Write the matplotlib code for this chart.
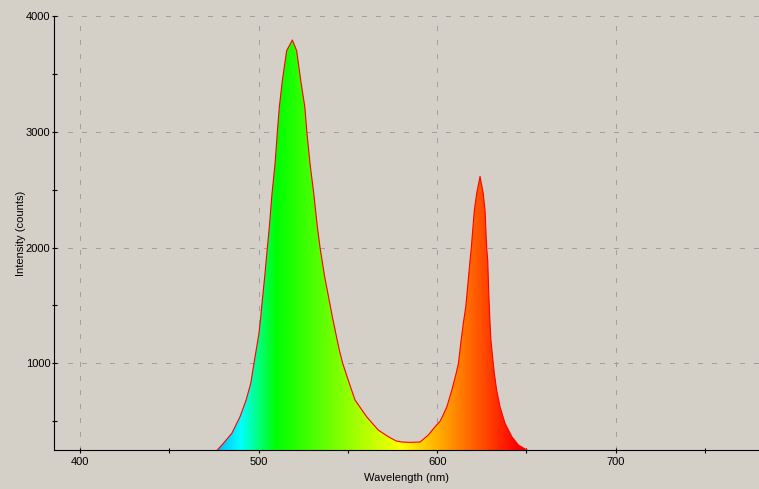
# -*- coding: utf-8 -*-
"""
Emission spectrum of an RGB LED (green + red), filled with the wavelength colour
"""
import numpy as np
import matplotlib.pyplot as plt
from matplotlib.path import Path
from matplotlib.patches import PathPatch
from matplotlib.ticker import MultipleLocator

# Spectrum (nm, counts)
wavelength = [476.9, 480.3, 485.0, 489.6, 493.0, 495.6, 497.4, 500.2, 501.2,
              501.7, 503.4, 504.9, 506.0, 507.5, 509.2, 510.5, 511.6, 513.3,
              515.7, 518.9, 521.3, 523.6, 525.9, 527.0, 528.8, 530.9, 532.9,
              534.4, 537.0, 538.1, 539.4, 541.3, 545.2, 547.1, 550.8, 554.0,
              560.5, 567.0, 572.6, 577.0, 580.2, 585.0, 590.4, 595.0, 598.8,
              601.6, 603.5, 605.4, 608.2, 610.6, 611.9, 613.4, 614.6, 616.0,
              616.7, 618.4, 619.1, 620.8, 622.1, 624.0, 625.8, 626.8, 627.7,
              628.3, 628.9, 629.2, 629.6, 630.1, 631.4, 632.0, 633.3, 635.2,
              638.0, 641.8, 645.5, 650.2]
intensity = [252, 310, 396, 539, 683, 827, 1000, 1258, 1401,
             1487, 1746, 2000, 2177, 2465, 2723, 3000, 3212, 3442,
             3700, 3792, 3700, 3442, 3212, 3000, 2723, 2465, 2177,
             2000, 1746, 1660, 1555, 1401, 1114, 1000, 827, 683,
             539, 424, 367, 330, 321, 318, 321, 381, 453,
             500, 560, 625, 769, 913, 1000, 1200, 1344, 1487,
             1603, 1890, 2000, 2321, 2465, 2614, 2465, 2321, 2000,
             1890, 1603, 1487, 1344, 1200, 1000, 913, 769, 625,
             482, 367, 295, 252]

x_ticks = [400, 500, 600, 700]
y_ticks = [1000, 2000, 3000, 4000]

bg = '#d4d0c8'


def wl_to_rgb(w):
    # rough visible-spectrum colour for a wavelength in nm
    if w < 440:
        return (-(w - 440) / 60, 0.0, 1.0)
    if w < 490:
        return (0.0, (w - 440) / 50, 1.0)
    if w < 510:
        return (0.0, 1.0, -(w - 510) / 20)
    if w < 580:
        return ((w - 510) / 70, 1.0, 0.0)
    if w < 645:
        return (1.0, -(w - 645) / 65, 0.0)
    return (1.0, 0.0, 0.0)


plt.rcParams['font.family'] = ['Liberation Sans', 'DejaVu Sans']
plt.rcParams['font.size'] = 8

fig = plt.figure(figsize=(7.59, 4.891), dpi=100, facecolor=bg)
ax = fig.add_axes([54.3 / 759, 39 / 489, 704.7 / 759, 434 / 489])
ax.set_facecolor(bg)

# colour strip, clipped to the area under the curve
strip_w = np.linspace(wavelength[0], wavelength[-1], 500)
strip = np.array([wl_to_rgb(w) for w in strip_w])[None, :, :]
im = ax.imshow(strip, extent=(wavelength[0], wavelength[-1], 0, 4000),
               aspect='auto', origin='lower', interpolation='bilinear',
               zorder=1)
verts = list(zip(wavelength, intensity)) + [(wavelength[-1], 0), (wavelength[0], 0)]
area = PathPatch(Path(verts), transform=ax.transData,
                 facecolor='none', edgecolor='none')
ax.add_patch(area)
im.set_clip_path(area)

ax.plot(wavelength, intensity, color='red', linewidth=0.8, zorder=3)

ax.set_xlim(385.6, 780.2)
ax.set_ylim(252, 4000)

ax.set_xticks(x_ticks)
ax.set_yticks(y_ticks)
ax.xaxis.set_minor_locator(MultipleLocator(50))
ax.yaxis.set_minor_locator(MultipleLocator(500))
ax.tick_params(which='both', direction='inout', length=3.6, width=0.8,
               color='black', labelsize=8)
ax.tick_params(axis='x', pad=3)
ax.tick_params(axis='y', pad=1)

ax.grid(True, which='major', color='#a0a0a0', linewidth=0.72,
        linestyle=(0, (5, 10)), antialiased=False, zorder=0)
ax.set_axisbelow(True)

for side in ['top', 'right']:
    ax.spines[side].set_visible(False)
for side in ['left', 'bottom']:
    ax.spines[side].set_linewidth(0.8)
    ax.spines[side].set_color('black')

ax.set_xlabel('Wavelength (nm)')
ax.set_ylabel('Intensity (counts)')
ax.xaxis.set_label_coords(0.5, -0.052)
ax.yaxis.set_label_coords(-0.040, 0.5)

plt.savefig('out.png', dpi=100, facecolor=bg)
